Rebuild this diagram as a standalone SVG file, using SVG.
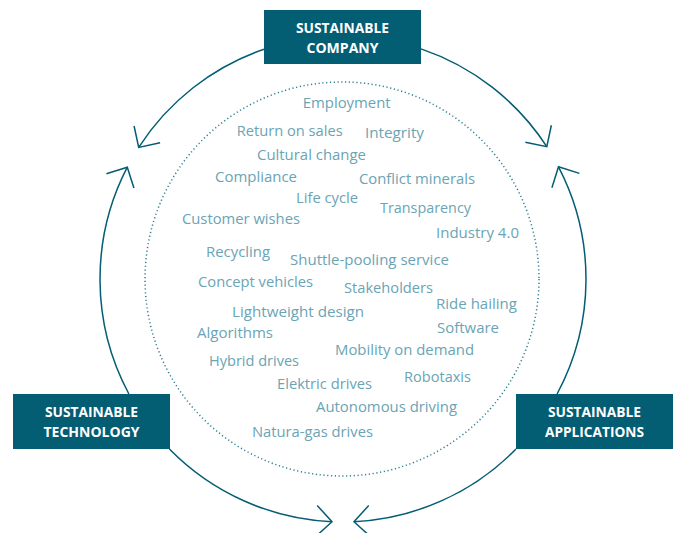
<svg xmlns="http://www.w3.org/2000/svg" width="680" height="533" viewBox="0 0 680 533">
<defs>
<style>
.box{fill:#035d73}
.bt{font-family:"Open Sans","Noto Sans",sans-serif;font-weight:700;font-size:14px;fill:#ffffff;text-anchor:middle}
.w{font-family:"Open Sans","Noto Sans",sans-serif;font-size:15px;fill:#6aa4b5}
.arc{fill:none;stroke:#035d73;stroke-width:1.5}
.dots{fill:none;stroke:#2f7f93;stroke-width:1.5;stroke-dasharray:1.2 2.6}
</style>
<marker id="ah" markerUnits="userSpaceOnUse" markerWidth="40" markerHeight="40" viewBox="-20 -20 40 40" refX="0" refY="0" orient="auto" overflow="visible">
<path d="M -15.5 -15.5 L 0 0 L -15.5 15.5" fill="none" stroke="#035d73" stroke-width="1.5"/>
</marker>
</defs>
<rect width="680" height="533" fill="#ffffff"/>
<g id="connectors">
<path class="arc" marker-end="url(#ah)" d="M 264 49.2 A 243 243 0 0 0 138.7 147.4"/>
<path class="arc" marker-end="url(#ah)" d="M 421 48.9 A 243 243 0 0 1 546.8 146.7"/>
<path class="arc" marker-end="url(#ah)" d="M 128.9 394 A 243 243 0 0 1 127.3 167.2"/>
<path class="arc" marker-end="url(#ah)" d="M 169.4 449 A 243 243 0 0 0 332 521.7"/>
<path class="arc" marker-end="url(#ah)" d="M 516 449 A 243 243 0 0 1 354 521.7"/>
<path class="arc" marker-end="url(#ah)" d="M 557.1 394 A 243 243 0 0 0 558.5 166.8"/>
</g>
<circle id="inner-circle" class="dots" cx="342" cy="279" r="197"/>
<g id="company">
<rect class="box" x="264" y="10" width="157" height="54"/>
<text class="bt" x="342.5" y="33" textLength="93" lengthAdjust="spacingAndGlyphs">SUSTAINABLE</text>
<text class="bt" x="342.5" y="53" textLength="72" lengthAdjust="spacingAndGlyphs">COMPANY</text>
</g>
<g id="technology">
<rect class="box" x="13" y="394" width="157" height="55"/>
<text class="bt" x="91.5" y="417" textLength="93" lengthAdjust="spacingAndGlyphs">SUSTAINABLE</text>
<text class="bt" x="91.5" y="437" textLength="96" lengthAdjust="spacingAndGlyphs">TECHNOLOGY</text>
</g>
<g id="applications">
<rect class="box" x="516" y="394" width="157" height="55"/>
<text class="bt" x="594.5" y="417" textLength="93" lengthAdjust="spacingAndGlyphs">SUSTAINABLE</text>
<text class="bt" x="594.5" y="437" textLength="99" lengthAdjust="spacingAndGlyphs">APPLICATIONS</text>
</g>
<g id="topics">
<text class="w" x="302.7" y="108" textLength="88" lengthAdjust="spacingAndGlyphs">Employment</text>
<text class="w" x="236.7" y="136" textLength="106" lengthAdjust="spacingAndGlyphs">Return on sales</text>
<text class="w" x="365" y="138" textLength="59" lengthAdjust="spacingAndGlyphs">Integrity</text>
<text class="w" x="257" y="160" textLength="109" lengthAdjust="spacingAndGlyphs">Cultural change</text>
<text class="w" x="215" y="182" textLength="82" lengthAdjust="spacingAndGlyphs">Compliance</text>
<text class="w" x="359" y="184" textLength="116" lengthAdjust="spacingAndGlyphs">Conflict minerals</text>
<text class="w" x="296" y="203" textLength="62" lengthAdjust="spacingAndGlyphs">Life cycle</text>
<text class="w" x="380" y="213" textLength="91" lengthAdjust="spacingAndGlyphs">Transparency</text>
<text class="w" x="182" y="224" textLength="118" lengthAdjust="spacingAndGlyphs">Customer wishes</text>
<text class="w" x="436" y="238" textLength="83" lengthAdjust="spacingAndGlyphs">Industry 4.0</text>
<text class="w" x="206" y="257" textLength="64" lengthAdjust="spacingAndGlyphs">Recycling</text>
<text class="w" x="290" y="265" textLength="159" lengthAdjust="spacingAndGlyphs">Shuttle-pooling service</text>
<text class="w" x="198" y="287" textLength="115" lengthAdjust="spacingAndGlyphs">Concept vehicles</text>
<text class="w" x="344" y="293" textLength="89" lengthAdjust="spacingAndGlyphs">Stakeholders</text>
<text class="w" x="436" y="309" textLength="81" lengthAdjust="spacingAndGlyphs">Ride hailing</text>
<text class="w" x="232" y="317" textLength="132" lengthAdjust="spacingAndGlyphs">Lightweight design</text>
<text class="w" x="437" y="333" textLength="62" lengthAdjust="spacingAndGlyphs">Software</text>
<text class="w" x="197" y="338" textLength="76" lengthAdjust="spacingAndGlyphs">Algorithms</text>
<text class="w" x="335" y="355" textLength="139" lengthAdjust="spacingAndGlyphs">Mobility on demand</text>
<text class="w" x="209" y="366" textLength="90" lengthAdjust="spacingAndGlyphs">Hybrid drives</text>
<text class="w" x="404" y="382" textLength="67" lengthAdjust="spacingAndGlyphs">Robotaxis</text>
<text class="w" x="277" y="389" textLength="95" lengthAdjust="spacingAndGlyphs">Elektric drives</text>
<text class="w" x="316" y="412" textLength="141" lengthAdjust="spacingAndGlyphs">Autonomous driving</text>
<text class="w" x="252" y="437" textLength="121" lengthAdjust="spacingAndGlyphs">Natura-gas drives</text>
</g>
</svg>
